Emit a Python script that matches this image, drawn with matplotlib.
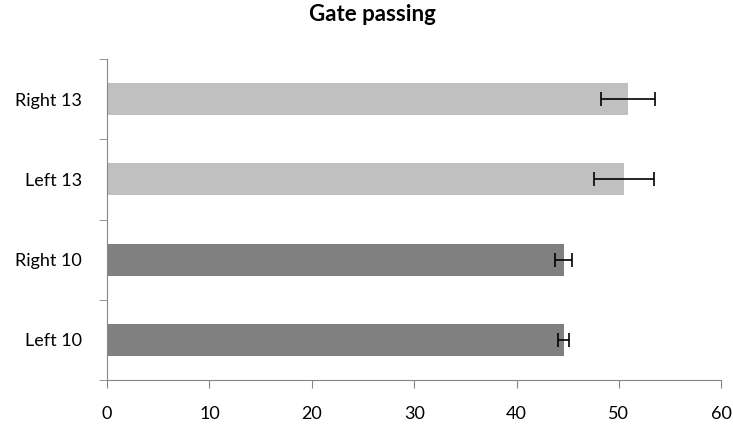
import matplotlib.pyplot as plt
import numpy as np

# Data
categories = ['Left 10', 'Right 10', 'Left 13', 'Right 13']
values = [44.6, 44.6, 50.5, 50.9]
errors = [0.5, 0.8, 2.95, 2.65]
colors = ['#808080', '#808080', '#C0C0C0', '#C0C0C0']

plt.rcParams['font.family'] = ['Lato', 'DejaVu Sans']

fig = plt.figure(figsize=(7.33, 4.25), dpi=100)
ax = fig.add_axes([0.146, 0.106, 0.838, 0.755])

y = np.arange(len(categories))
ax.barh(y, values, height=0.4, color=colors, zorder=2)
ax.errorbar(values, y, xerr=errors, fmt='none', ecolor='black',
            elinewidth=1.2, capsize=5, capthick=1.2, zorder=3)

ax.set_xlim(0, 60)
ax.set_ylim(-0.5, len(categories) - 0.5)
ax.set_xticks(np.arange(0, 61, 10))
ax.tick_params(axis='x', labelsize=13, length=6, color='#868686', pad=13)

# category labels at centres, tick marks at boundaries
ax.set_yticks(y)
ax.set_yticklabels(categories)
ax.tick_params(axis='y', length=0, labelsize=13, pad=18)
ax.set_yticks(np.arange(-0.5, len(categories), 1), minor=True)
ax.tick_params(axis='y', which='minor', length=6, color='#868686')

for s in ['top', 'right']:
    ax.spines[s].set_visible(False)
for s in ['left', 'bottom']:
    ax.spines[s].set_color('#868686')

fig.suptitle('Gate passing', fontsize=16, fontweight='bold', x=0.508, y=0.99)

fig.savefig('out.png', dpi=100)
